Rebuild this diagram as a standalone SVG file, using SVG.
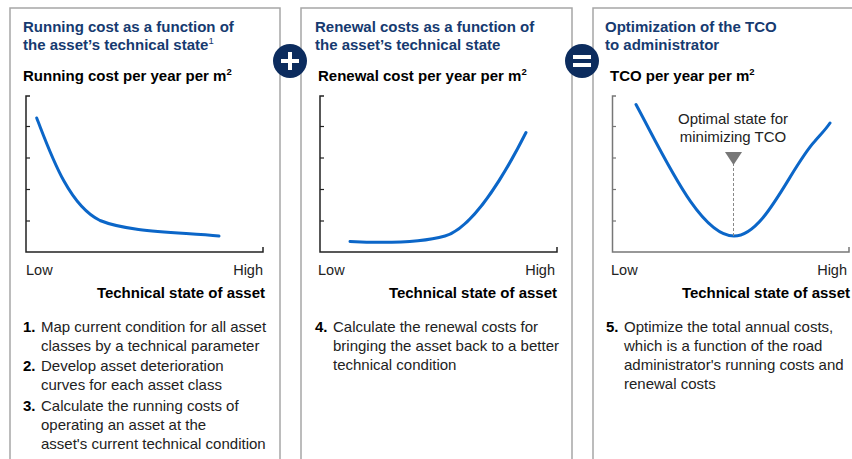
<svg xmlns="http://www.w3.org/2000/svg" width="852" height="459" viewBox="0 0 852 459">
<style>
.panel{fill:#fff;stroke:#a6a6a6;stroke-width:1.5}
.ttl{font-family:"Liberation Sans",Arial,sans-serif;font-weight:bold;font-size:15px;fill:#163a70}
.sub{font-family:"Liberation Sans",Arial,sans-serif;font-weight:bold;font-size:15px;fill:#000}
.lbl{font-family:"Liberation Sans",Arial,sans-serif;font-size:14.5px;fill:#222}
.body{font-family:"Liberation Sans",Arial,sans-serif;font-size:15px;fill:#222}
.num{font-weight:bold;fill:#000}
.axis{fill:none;stroke:#222;stroke-width:1.5}
.axis3{fill:none;stroke:#777;stroke-width:1.5}
.tick{stroke:#222;stroke-width:1.2}
.curve{fill:none;stroke:#0b66c8;stroke-width:3;stroke-linecap:round}
.op{fill:#0c2c5e}
.opl{stroke:#fff;stroke-width:4;stroke-linecap:butt}
</style>
<rect width="852" height="459" fill="#fff"/>

<g id="panel1">
<rect class="panel" x="10" y="8" width="270" height="470"/>
<text class="ttl" x="23" y="32">Running cost as a function of</text>
<text class="ttl" x="23" y="50">the asset’s technical state<tspan font-size="9.5" font-weight="normal" dy="-6">1</tspan></text>
<text class="sub" x="23" y="81">Running cost per year per m<tspan font-size="9.5" dy="-6">2</tspan></text>
<path class="axis" d="M30,96 H26 V252 H263 V247"/>
<g class="tick"><line x1="26" y1="126.5" x2="30" y2="126.5"/><line x1="26" y1="158" x2="30" y2="158"/><line x1="26" y1="189.5" x2="30" y2="189.5"/><line x1="26" y1="221" x2="30" y2="221"/></g>
<path class="curve" d="M36.7,118 C50,152 68,205 100,220.5 C128,232 175,232 219,236"/>
<text class="lbl" x="26" y="275">Low</text>
<text class="lbl" x="263" y="275" text-anchor="end">High</text>
<text class="sub" x="265" y="298" text-anchor="end">Technical state of asset</text>
<text class="body" x="23" y="332"><tspan class="num">1.</tspan><tspan x="41">Map current condition for all asset</tspan></text>
<text class="body" x="41" y="351">classes by a technical parameter</text>
<text class="body" x="23" y="371"><tspan class="num">2.</tspan><tspan x="41">Develop asset deterioration</tspan></text>
<text class="body" x="41" y="390">curves for each asset class</text>
<text class="body" x="23" y="411"><tspan class="num">3.</tspan><tspan x="41">Calculate the running costs of</tspan></text>
<text class="body" x="41" y="430">operating an asset at the</text>
<text class="body" x="41" y="449">asset's current technical condition</text>
</g>

<g id="panel2">
<rect class="panel" x="301" y="8" width="271" height="470"/>
<text class="ttl" x="315" y="32">Renewal costs as a function of</text>
<text class="ttl" x="315" y="50">the asset’s technical state</text>
<text class="sub" x="318" y="81">Renewal cost per year per m<tspan font-size="9.5" dy="-6">2</tspan></text>
<path class="axis" d="M324,96 H320 V252 H557 V247"/>
<g class="tick"><line x1="320" y1="126.5" x2="324" y2="126.5"/><line x1="320" y1="158" x2="324" y2="158"/><line x1="320" y1="189.5" x2="324" y2="189.5"/><line x1="320" y1="221" x2="324" y2="221"/></g>
<path class="curve" d="M350,241.5 C380,243 420,243 445,236 C472,228 503,178 526,132.5"/>
<text class="lbl" x="318" y="275">Low</text>
<text class="lbl" x="555" y="275" text-anchor="end">High</text>
<text class="sub" x="557" y="298" text-anchor="end">Technical state of asset</text>
<text class="body" x="315" y="332"><tspan class="num">4.</tspan><tspan x="333">Calculate the renewal costs for</tspan></text>
<text class="body" x="333" y="351">bringing the asset back to a better</text>
<text class="body" x="333" y="370">technical condition</text>
</g>

<g id="panel3">
<rect class="panel" x="593" y="8" width="300" height="470"/>
<text class="ttl" x="605" y="32">Optimization of the TCO</text>
<text class="ttl" x="605" y="50">to administrator</text>
<text class="sub" x="610" y="81">TCO per year per m<tspan font-size="9.5" dy="-6">2</tspan></text>
<path class="axis3" d="M616,96 H612.5 V252 H849 V247"/>
<g class="tick" style="stroke:#777"><line x1="612.5" y1="126.5" x2="616" y2="126.5"/><line x1="612.5" y1="158" x2="616" y2="158"/><line x1="612.5" y1="189.5" x2="616" y2="189.5"/><line x1="612.5" y1="221" x2="616" y2="221"/></g>
<path class="curve" d="M636,104.5 C665,158 700,236 734,236 C765,236 790,168 815,141 C822,133 826,129 830,123"/>
<line x1="733.5" y1="163" x2="733.5" y2="236" stroke="#888" stroke-width="1" stroke-dasharray="3,2"/>
<polygon points="725,152 742,152 733.5,165" fill="#777"/>
<text class="lbl" x="733" y="124" text-anchor="middle" style="font-size:15px">Optimal state for</text>
<text class="lbl" x="733" y="142" text-anchor="middle" style="font-size:15px">minimizing TCO</text>
<text class="lbl" x="611" y="275">Low</text>
<text class="lbl" x="847" y="275" text-anchor="end">High</text>
<text class="sub" x="850" y="298" text-anchor="end">Technical state of asset</text>
<text class="body" x="606" y="332"><tspan class="num">5.</tspan><tspan x="624">Optimize the total annual costs,</tspan></text>
<text class="body" x="624" y="351">which is a function of the road</text>
<text class="body" x="624" y="370">administrator's running costs and</text>
<text class="body" x="624" y="389">renewal costs</text>
</g>

<g id="plus">
<circle class="op" cx="290" cy="61" r="17"/>
<line class="opl" x1="281" y1="61" x2="299" y2="61"/>
<line class="opl" x1="290" y1="52" x2="290" y2="70"/>
</g>
<g id="equals">
<circle class="op" cx="582" cy="61" r="17"/>
<line class="opl" x1="573" y1="57" x2="591" y2="57"/>
<line class="opl" x1="573" y1="65" x2="591" y2="65"/>
</g>
</svg>
